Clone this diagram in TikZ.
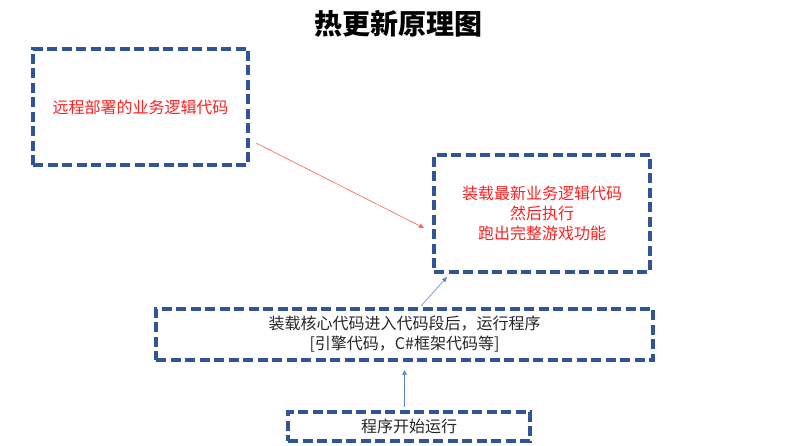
\documentclass[tikz,border=0pt]{standalone}
\usepackage{fontspec}
\setmainfont{Noto Sans CJK SC}
\usepackage{xcolor}
\usepackage{tikz}
\usetikzlibrary{positioning, arrows.meta, calc}
\definecolor{boxline}{HTML}{2F5597}
\definecolor{linkred}{HTML}{FF5B5B}
\definecolor{linkblue}{HTML}{5B86CF}
\definecolor{textred}{HTML}{FF2020}

\begin{document}
\begin{tikzpicture}[x=1pt, y=-1pt,
 font=\fontsize{16}{20}\selectfont,
 box/.style={draw=boxline, line width=3.2pt, dash pattern=on 10pt off 4.5pt, align=center, inner sep=0pt, outer sep=0pt},
 redlink/.style={-{Triangle[length=5pt,width=4.5pt]}, linkred, line width=0.6pt},
 bluelink/.style={-{Triangle[length=5pt,width=4.5pt]}, linkblue, line width=0.6pt}]
\useasboundingbox (0,0) rectangle (796,446);
\node(title) at (398,24){\fontsize{28}{32}\selectfont\bfseries 热更新原理图};
\node[box, minimum width=215pt, minimum height=116pt, text=textred](remote) at (140.5,107){远程部署的业务逻辑代码};
\node[box, minimum width=216pt, minimum height=117pt, text=textred](load) at (542,213.5){装载最新业务逻辑代码\\然后执行\\跑出完整游戏功能};
\node[box, minimum width=497pt, minimum height=51pt, text=black!85](core) at (404.5,334.5){装载核心代码进入代码段后，运行程序\\{}[引擎代码，C\#框架代码等]};
\node[box, below=52pt of core, xshift=4.5pt, minimum width=242pt, minimum height=29pt, text=black!85](start){程序开始运行};

\draw[redlink]([xshift=8pt,yshift=22pt]remote.south east)--([xshift=-10pt,yshift=-14.5pt]load.west);
\draw[bluelink]([xshift=16.5pt,yshift=3pt]core.north)--([xshift=13pt,yshift=-5pt]load.south west);
\draw[bluelink]([xshift=-4.5pt,yshift=5pt]start.north)--([yshift=-10pt]core.south);

\end{tikzpicture}
\end{document}
